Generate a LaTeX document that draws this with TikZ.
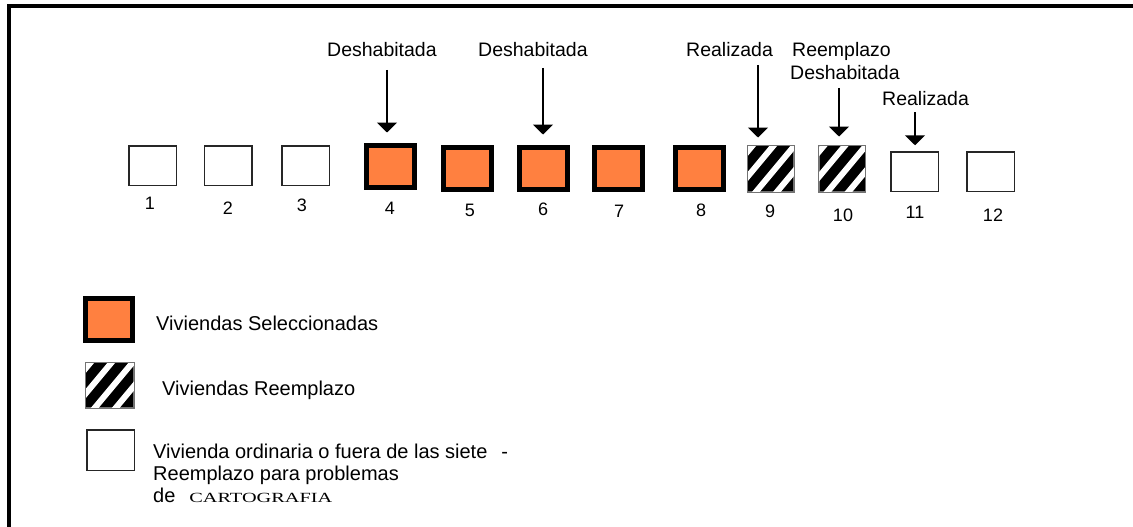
\documentclass[tikz,border=0pt]{standalone}
\usepackage{fontspec}
\setmainfont{Liberation Sans}
\newfontfamily\serifcap{Liberation Serif}
\usepackage{graphicx}
\usetikzlibrary{arrows.meta,calc}
\definecolor{selorange}{RGB}{255,128,64}
\tikzset{
 plainbox/.style={draw=black!85, line width=1.5pt, fill=white, inner sep=0pt, minimum width=47.5pt, minimum height=39.5pt},
 selbox/.style={draw=black, line width=5pt, fill=selorange, inner sep=0pt, minimum width=48pt, minimum height=42pt},
 replbox/.style={draw=black!55, line width=1pt, fill=black, inner sep=0pt, minimum width=46pt, minimum height=46pt},
 numlab/.style={font=\fontsize{18}{20}\selectfont, inner sep=0pt},
 toplab/.style={font=\fontsize{19.5}{22}\selectfont, inner sep=0pt, anchor=base west},
 leglab/.style={font=\fontsize{20}{22}\selectfont, inner sep=0pt, anchor=base west},
 pointer/.style={line width=1.5pt, -{Triangle[width=20pt,length=10pt]}},
 frameline/.style={line width=3.5pt},
}
\newcommand\hatchfill[1]{%
 \begin{scope}
 \clip (#1.north west) rectangle (#1.south east);
 \foreach \hc in {6,27,48,69}{\draw[white,line width=6pt] ($(#1.north west)+(\hc+10,-12)$) -- ++(-60,72);}
 \end{scope}
 \draw[draw=black!55,line width=1pt] (#1.north west) rectangle (#1.south east);}
\begin{document}
\begin{tikzpicture}[x=1pt,y=-1pt]
\useasboundingbox (0,0) rectangle (1133,527);
\fill[white] (0,0) rectangle (1133,527);
% frame
\draw[frameline] (8.8,540) -- (8.8,6) -- (1150,6);

% boxes
\node[plainbox] (b1) at (152.5,165.5) {};
\node[plainbox] (b2) at (228,165.5) {};
\node[plainbox] (b3) at (305.5,165.5) {};
\node[selbox] (b4) at (390,166.5) {};
\node[selbox] (b5) at (467.5,168.5) {};
\node[selbox] (b6) at (543,168.5) {};
\node[selbox] (b7) at (618.5,168.5) {};
\node[selbox] (b8) at (699.5,168.5) {};
\node[replbox] (b9) at (770.5,168.5) {};
\hatchfill{b9}
\node[replbox] (b10) at (842,168.5) {};
\hatchfill{b10}
\node[plainbox] (b11) at (914.5,171.5) {};
\node[plainbox] (b12) at (990.5,171.5) {};

% numbers
\node[numlab] (n1) at (150,203) {1};
\node[numlab] (n2) at (228,208) {2};
\node[numlab] (n3) at (302,205) {3};
\node[numlab] (n4) at (390,208) {4};
\node[numlab] (n5) at (470,210) {5};
\node[numlab] (n6) at (543,209) {6};
\node[numlab] (n7) at (619,211) {7};
\node[numlab] (n8) at (701,210) {8};
\node[numlab] (n9) at (770,211) {9};
\node[numlab] (n10) at (843,215) {10};
\node[numlab] (n11) at (915,212) {11};
\node[numlab] (n12) at (993,215) {12};

% top labels
\node[toplab] (l4) at (327,57) {Deshabitada};
\node[toplab] (l6) at (478,57) {Deshabitada};
\node[toplab] (l9) at (686,57) {Realizada};
\node[toplab] (l10a) at (792,57) {Reemplazo};
\node[toplab] (l10b) at (790,80) {Deshabitada};
\node[toplab] (l11) at (882,105) {Realizada};

% arrows
\coordinate (s4) at (387,70);
\coordinate (s6) at (543,68);
\coordinate (s9) at (758,65);
\coordinate (s10) at (839,88);
\coordinate (s11) at (915,112);
\draw[pointer,shorten >=10.5pt] (s4) -- (s4 |- b4.north);
\draw[pointer,shorten >=10.5pt] (s6) -- (s6 |- b6.north);
\draw[pointer,shorten >=7.5pt] (s9) -- (s9 |- b9.north);
\draw[pointer,shorten >=8.5pt] (s10) -- (s10 |- b10.north);
\draw[pointer,shorten >=5.75pt] (s11) -- (s11 |- b11.north);

% legend
\node[selbox,minimum width=47pt,minimum height=42pt] (k1) at (109,319.5) {};
\node[replbox,minimum width=48pt,minimum height=45pt] (k2) at (109.5,385) {};
\hatchfill{k2}
\node[plainbox,minimum width=47.5pt,minimum height=40.5pt] (k3) at (110.5,450) {};

\node[leglab] (t1) at (156,330) {Viviendas Seleccionadas};
\node[leglab] (t2) at (162,395) {Viviendas Reemplazo};
\node[leglab] (t3a) at (153,458) {Vivienda ordinaria o fuera de las siete\hspace{14pt}-};
\node[leglab] (t3b) at (153,480) {Reemplazo para problemas};
\node[leglab] (t3c) at (153,502) {de\hspace{14pt}{\serifcap\fontsize{14}{16}\selectfont\scalebox{1.45}[1]{CARTOGRAFIA}}};
\end{tikzpicture}
\end{document}
